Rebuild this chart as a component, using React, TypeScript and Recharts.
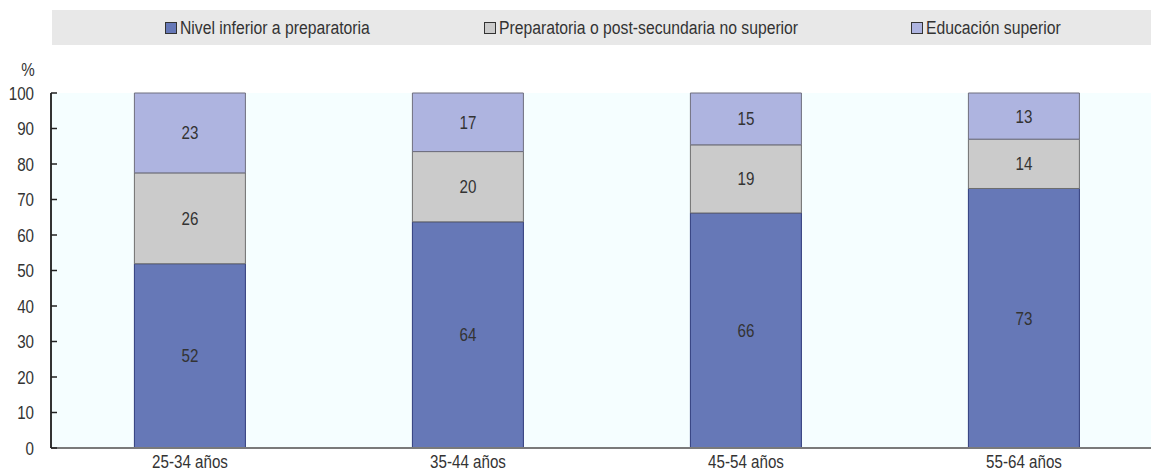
import React from 'react';
import { BarChart, Bar, XAxis, YAxis, CartesianGrid, LabelList, Legend } from 'recharts';

const categories = ['25-34 años', '35-44 años', '45-54 años', '55-64 años'];
const inferior = [51.9, 63.7, 66.2, 73.1];
const preparatoria = [25.6, 19.8, 19.2, 13.9];
const superior = [22.5, 16.5, 14.6, 13.0];
const yTicks = [0, 10, 20, 30, 40, 50, 60, 70, 80, 90, 100];
const boundaryTicks = [1, 2, 3];

const seriesNames = {
  inferior: 'Nivel inferior a preparatoria',
  preparatoria: 'Preparatoria o post-secundaria no superior',
  superior: 'Educación superior',
};

const data = categories.map((c, i) => ({
  name: c,
  inferior: inferior[i],
  preparatoria: preparatoria[i],
  superior: superior[i],
}));

const FONT = "'Liberation Sans', Arial, sans-serif";
const FS = 18.5;
const SX = 0.82;
const TEXT = '#333333';

const COLORS = {
  inferior: '#6678B7',
  preparatoria: '#CBCBCB',
  superior: '#AEB4E0',
};
const STROKES = {
  inferior: '#2E3B7C',
  preparatoria: '#6E6E6E',
  superior: '#6E6E7E',
};

const legendLefts = [113, 432, 859];

const LegendContent = () => {
  const keys = ['inferior', 'preparatoria', 'superior'] as const;
  return (
    <div
      style={{
        position: 'relative',
        width: 1110,
        height: 35,
        background: '#E8E8E8',
        fontFamily: FONT,
        fontSize: 19.2,
        color: TEXT,
      }}
    >
      {keys.map((k, i) => (
        <div
          key={k}
          style={{
            position: 'absolute',
            left: legendLefts[i],
            top: 0,
            height: 35,
            display: 'flex',
            alignItems: 'center',
            whiteSpace: 'nowrap',
          }}
        >
          <span
            style={{
              display: 'inline-block',
              width: 10,
              height: 10,
              background: COLORS[k],
              border: '1px solid #333',
              marginRight: 3,
            }}
          />
          <span style={{ display: 'inline-block', transform: `scaleX(${SX})`, transformOrigin: 'left center' }}>
            {seriesNames[k]}
          </span>
        </div>
      ))}
    </div>
  );
};

const NarrowText = ({ x, y, anchor, children }: any) => (
  <text
    transform={`translate(${x},${y}) scale(${SX},1)`}
    textAnchor={anchor}
    fill={TEXT}
    fontSize={FS}
    fontFamily={FONT}
  >
    {children}
  </text>
);

const YTick = (props: any) => {
  const { x, y, payload } = props;
  return (
    <g>
      <line x1={x} y1={y} x2={x + 6} y2={y} stroke="#222" strokeWidth={1.5} />
      <NarrowText x={x - 17} y={y + 6.5} anchor="end">
        {payload.value}
      </NarrowText>
    </g>
  );
};

const XTick = (props: any) => {
  const { x, y, payload } = props;
  return (
    <NarrowText x={x} y={y + 20} anchor="middle">
      {payload.value}
    </NarrowText>
  );
};

const PercentLabel = () => (
  <NarrowText x={28} y={76} anchor="middle">
    %
  </NarrowText>
);

const SegmentLabel = (props: any) => {
  const { x, y, width, height, value } = props;
  return (
    <NarrowText x={Number(x) + Number(width) / 2} y={Number(y) + Number(height) / 2 + 6.5} anchor="middle">
      {Math.round(Number(value))}
    </NarrowText>
  );
};

export default function App() {
  return (
    <div style={{ position: 'absolute', left: 0, top: 0, width: 1151, height: 470, overflow: 'hidden', background: '#fff' }}>
      <BarChart
        width={1170}
        height={470}
        data={data}
        margin={{ top: 93, right: 7, bottom: 0, left: 0 }}
        barCategoryGap="30%"
      >
        <CartesianGrid xAxisId="top" horizontal={false} stroke="#EAF5F5" fill="#F5FEFF" />
        <XAxis
          xAxisId="top"
          orientation="top"
          type="number"
          domain={[0, 4]}
          ticks={boundaryTicks}
          height={0}
          mirror
          tickSize={5}
          tickLine={{ stroke: '#222', strokeWidth: 1.5 }}
          tickFormatter={() => ''}
          axisLine={{ stroke: '#8A8A8A', strokeWidth: 2 }}
          allowDataOverflow
        />
        <XAxis
          dataKey="name"
          height={22}
          tickLine={false}
          tickSize={0}
          tickMargin={0}
          axisLine={{ stroke: '#7A7A7A', strokeWidth: 2 }}
          tick={<XTick />}
          interval={0}
        />
        <YAxis
          width={51}
          domain={[0, 100]}
          ticks={yTicks}
          interval={0}
          tickLine={false}
          tickSize={0}
          tickMargin={0}
          tick={<YTick />}
          axisLine={{ stroke: '#333', strokeWidth: 2 }}
          label={<PercentLabel />}
        />
        <Legend
          layout="horizontal"
          align="center"
          verticalAlign="middle"
          wrapperStyle={{ top: 10, left: 52, width: 1110, height: 35 }}
          content={<LegendContent />}
        />
        <Bar dataKey="inferior" name={seriesNames.inferior} stackId="a" fill={COLORS.inferior} stroke={STROKES.inferior} strokeWidth={1} isAnimationActive={false}>
          <LabelList dataKey="inferior" content={<SegmentLabel />} />
        </Bar>
        <Bar dataKey="preparatoria" name={seriesNames.preparatoria} stackId="a" fill={COLORS.preparatoria} stroke={STROKES.preparatoria} strokeWidth={1} isAnimationActive={false}>
          <LabelList dataKey="preparatoria" content={<SegmentLabel />} />
        </Bar>
        <Bar dataKey="superior" name={seriesNames.superior} stackId="a" fill={COLORS.superior} stroke={STROKES.superior} strokeWidth={1} isAnimationActive={false}>
          <LabelList dataKey="superior" content={<SegmentLabel />} />
        </Bar>
      </BarChart>
    </div>
  );
}
